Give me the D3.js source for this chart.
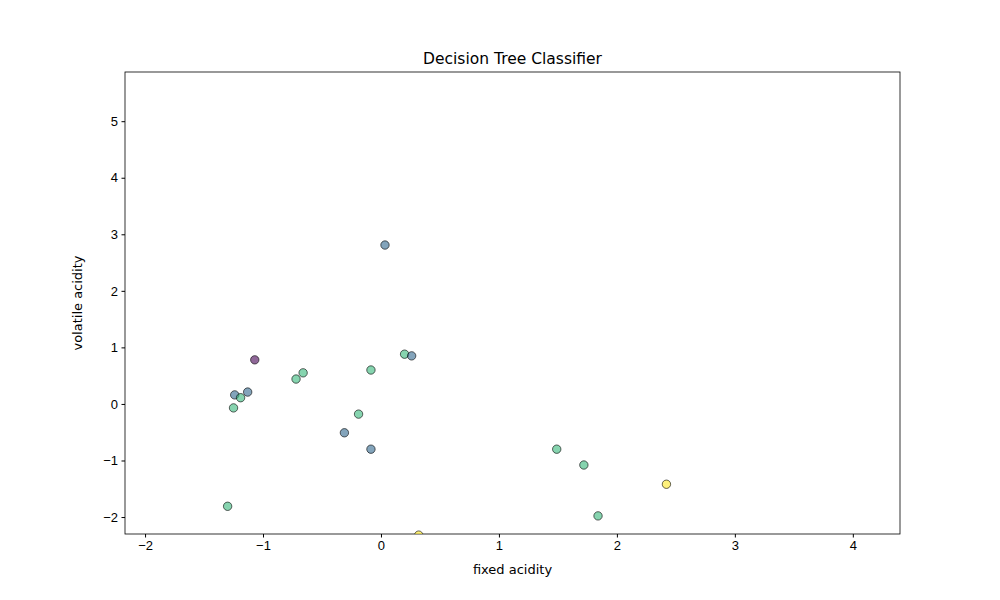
<!DOCTYPE html>
<html><head><meta charset="utf-8">
<script src="https://cdn.jsdelivr.net/npm/d3@7"></script>
<style>body{margin:0;background:#fff;font-family:"DejaVu Sans",sans-serif;}</style>
</head><body>
<div id="chart"></div>
<script>
// Data
const xVals = [0.034, -1.07, 0.20, 0.26, -0.66, -0.72, -0.085, -1.24, -1.13, -1.19, -1.25, -0.19, -0.31, -0.085, 1.49, 1.72, 2.42, -1.30, 1.84, 0.32];
const yVals = [2.81, 0.78, 0.88, 0.85, 0.55, 0.44, 0.60, 0.16, 0.21, 0.11, -0.07, -0.18, -0.51, -0.80, -0.80, -1.08, -1.42, -1.81, -1.98, -2.32];
const classes = [1, 0, 2, 1, 2, 2, 2, 1, 1, 2, 2, 2, 1, 1, 2, 2, 3, 2, 2, 3];
const classColors = ["#440154", "#31688e", "#35b779", "#fde725"];
const xTicks = [-2, -1, 0, 1, 2, 3, 4];
const yTicks = [-2, -1, 0, 1, 2, 3, 4, 5];

const margin = { top: 72, right: 100, bottom: 66, left: 125 },
    width = 1000 - margin.left - margin.right,
    height = 600 - margin.top - margin.bottom;

const svg = d3.select("#chart").append("svg")
    .attr("width", 1000).attr("height", 600)
    .append("g")
    .attr("transform", "translate(" + margin.left + "," + margin.top + ")");

const x = d3.scaleLinear().domain([-2.17, 4.40]).range([0, width]);
const y = d3.scaleLinear().domain([-2.30, 5.87]).range([height, 0]);

svg.append("defs").append("clipPath").attr("id", "clip")
    .append("rect").attr("width", width).attr("height", height);

svg.append("g")
    .attr("transform", "translate(0," + height + ")")
    .call(d3.axisBottom(x).tickValues(xTicks).tickFormat(d3.format("d")).tickSize(3.5).tickPadding(3.5))
    .call(g => g.selectAll("text").style("font-size", "13px").attr("fill", "#000"));

svg.append("g")
    .call(d3.axisLeft(y).tickValues(yTicks).tickFormat(d3.format("d")).tickSize(3.5).tickPadding(3.5))
    .call(g => g.selectAll("text").style("font-size", "13px").attr("fill", "#000"));

svg.selectAll(".domain").remove();
svg.append("rect").attr("width", width).attr("height", height)
    .attr("fill", "none").attr("stroke", "#000").attr("stroke-width", 0.8);

// Points
svg.append("g").attr("clip-path", "url(#clip)")
    .selectAll("circle")
    .data(xVals.map((d, i) => [d, yVals[i], classes[i]]))
    .enter().append("circle")
    .attr("cx", d => x(d[0]))
    .attr("cy", d => y(d[1]))
    .attr("r", 4.2)
    .attr("fill", d => classColors[d[2]])
    .attr("fill-opacity", 0.6)
    .attr("stroke", "#000")
    .attr("stroke-opacity", 0.6)
    .attr("stroke-width", 1);

// Labels
svg.append("text").attr("x", width / 2).attr("y", -8)
    .attr("text-anchor", "middle").style("font-size", "15.5px").text("Decision Tree Classifier");
svg.append("text").attr("x", width / 2).attr("y", height + 40)
    .attr("text-anchor", "middle").style("font-size", "13px").text("fixed acidity");
svg.append("text").attr("transform", "rotate(-90)")
    .attr("x", -height / 2).attr("y", -43)
    .attr("text-anchor", "middle").style("font-size", "13px").text("volatile acidity");
</script>
</body></html>
